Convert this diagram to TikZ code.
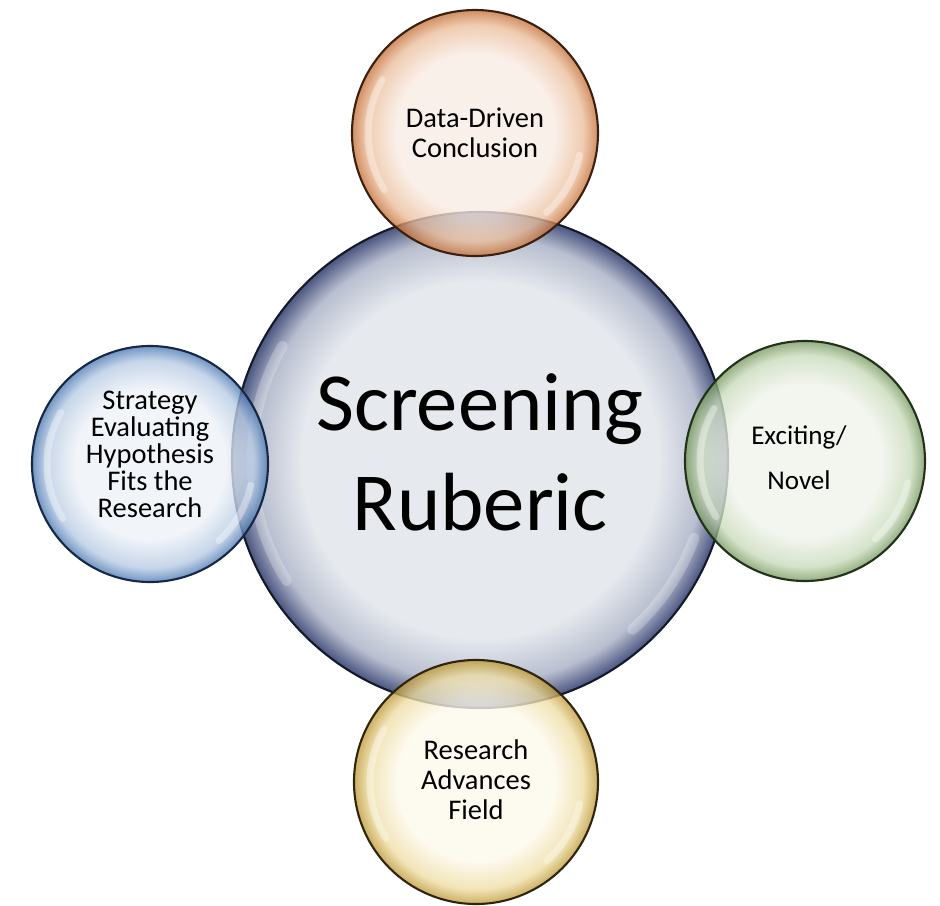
\documentclass[tikz,border=0pt]{standalone}
\usepackage{fontspec}
\setmainfont{Carlito}

% bubble colours
\definecolor{rubin}{HTML}{E6E9EE}
\definecolor{rubmid}{HTML}{B9BFD0}
\definecolor{rubout}{HTML}{4A5580}
\definecolor{rubline}{HTML}{151A28}
\definecolor{datain}{HTML}{F9ECE4}
\definecolor{datamid}{HTML}{EBBE9C}
\definecolor{dataout}{HTML}{C46F35}
\definecolor{dataline}{HTML}{3A2010}
\definecolor{stratin}{HTML}{EDF1F7}
\definecolor{stratmid}{HTML}{B6CAE4}
\definecolor{stratout}{HTML}{4A78B2}
\definecolor{stratline}{HTML}{162844}
\definecolor{novin}{HTML}{EFF3EB}
\definecolor{novmid}{HTML}{C9DBBB}
\definecolor{novout}{HTML}{76985F}
\definecolor{novline}{HTML}{22321A}
\definecolor{fieldin}{HTML}{FDF9EC}
\definecolor{fieldmid}{HTML}{EEDDA3}
\definecolor{fieldout}{HTML}{BD9733}
\definecolor{fieldline}{HTML}{2E2510}

% the path is fitted to the middle 50bp, so the rim sits at 25bp
\pgfdeclareradialshading{rubshade}{\pgfpoint{0bp}{0bp}}{color(0bp)=(rubin); color(18bp)=(rubin); color(22.5bp)=(rubmid); color(25bp)=(rubout); color(50bp)=(rubout)}
\pgfdeclareradialshading{datashade}{\pgfpoint{0bp}{0bp}}{color(0bp)=(datain); color(16bp)=(datain); color(22bp)=(datamid); color(25bp)=(dataout); color(50bp)=(dataout)}
\pgfdeclareradialshading{stratshade}{\pgfpoint{0bp}{0bp}}{color(0bp)=(stratin); color(16bp)=(stratin); color(22bp)=(stratmid); color(25bp)=(stratout); color(50bp)=(stratout)}
\pgfdeclareradialshading{novshade}{\pgfpoint{0bp}{0bp}}{color(0bp)=(novin); color(16bp)=(novin); color(22bp)=(novmid); color(25bp)=(novout); color(50bp)=(novout)}
\pgfdeclareradialshading{fieldshade}{\pgfpoint{0bp}{0bp}}{color(0bp)=(fieldin); color(16bp)=(fieldin); color(22bp)=(fieldmid); color(25bp)=(fieldout); color(50bp)=(fieldout)}

\tikzset{
  bubble/.style={circle, shade, inner sep=0pt, line width=0.6pt},
  sat/.style={bubble, fill opacity=.78, draw opacity=1},
  txt/.style={align=center, font=\fontsize{8.1pt}{8.5pt}\selectfont},
  gloss/.style={white, line width=2pt, opacity=.35, line cap=round}
}

\begin{document}
\begin{tikzpicture}
\useasboundingbox (0,0) rectangle (9.40,9.05);
\node[bubble, shading=rubshade, draw=rubline, minimum size=4.96cm] (ruberic) at (4.80,4.45) {};
\draw[gloss, line width=3pt, opacity=.25] ([shift={(150:2.28)}]ruberic.center) arc[start angle=150, end angle=212, radius=2.28];
\draw[gloss, line width=3pt, opacity=.25] ([shift={(-20:2.28)}]ruberic.center) arc[start angle=-20, end angle=-48, radius=2.28];

\node[sat, shading=datashade, draw=dataline, minimum size=2.46cm] (data) at (4.75,7.72) {};
\node[sat, shading=stratshade, draw=stratline, minimum size=2.36cm] (strat) at (1.50,4.41) {};
\node[sat, shading=novshade, draw=novline, minimum size=2.40cm] (novel) at (8.05,4.44) {};
\node[sat, shading=fieldshade, draw=fieldline, minimum size=2.44cm] (field) at (4.76,1.23) {};

% highlights
\draw[gloss] ([shift={(150:1.07)}]data.center) arc[start angle=150, end angle=212, radius=1.07];
\draw[gloss] ([shift={(-12:1.07)}]data.center) arc[start angle=-12, end angle=-48, radius=1.07];
\draw[gloss] ([shift={(150:1.03)}]strat.center) arc[start angle=150, end angle=212, radius=1.03];
\draw[gloss] ([shift={(-12:1.03)}]strat.center) arc[start angle=-12, end angle=-48, radius=1.03];
\draw[gloss] ([shift={(150:1.05)}]novel.center) arc[start angle=150, end angle=212, radius=1.05];
\draw[gloss] ([shift={(-12:1.05)}]novel.center) arc[start angle=-12, end angle=-48, radius=1.05];
\draw[gloss] ([shift={(150:1.06)}]field.center) arc[start angle=150, end angle=212, radius=1.06];
\draw[gloss] ([shift={(-12:1.06)}]field.center) arc[start angle=-12, end angle=-48, radius=1.06];

% texts
\node[txt, font=\fontsize{23.5pt}{28.5pt}\selectfont] (ruberic text) at ([yshift=0.08cm]ruberic.center) {Screening\\Ruberic};
\node[txt] (data text) at (data.center) {Data-Driven\\Conclusion};
\node[txt, font=\fontsize{8.1pt}{7.7pt}\selectfont] (strat text) at ([yshift=0.10cm]strat.center) {Strategy\\Evaluating\\Hypothesis\\Fits the\\Research};
\node[txt, font=\fontsize{7.7pt}{12.8pt}\selectfont] (novel text) at ([xshift=-0.06cm, yshift=0.03cm]novel.center) {Exciting/\\Novel};
\node[txt] (field text) at ([yshift=0.02cm]field.center) {Research\\Advances\\Field};
\end{tikzpicture}
\end{document}
